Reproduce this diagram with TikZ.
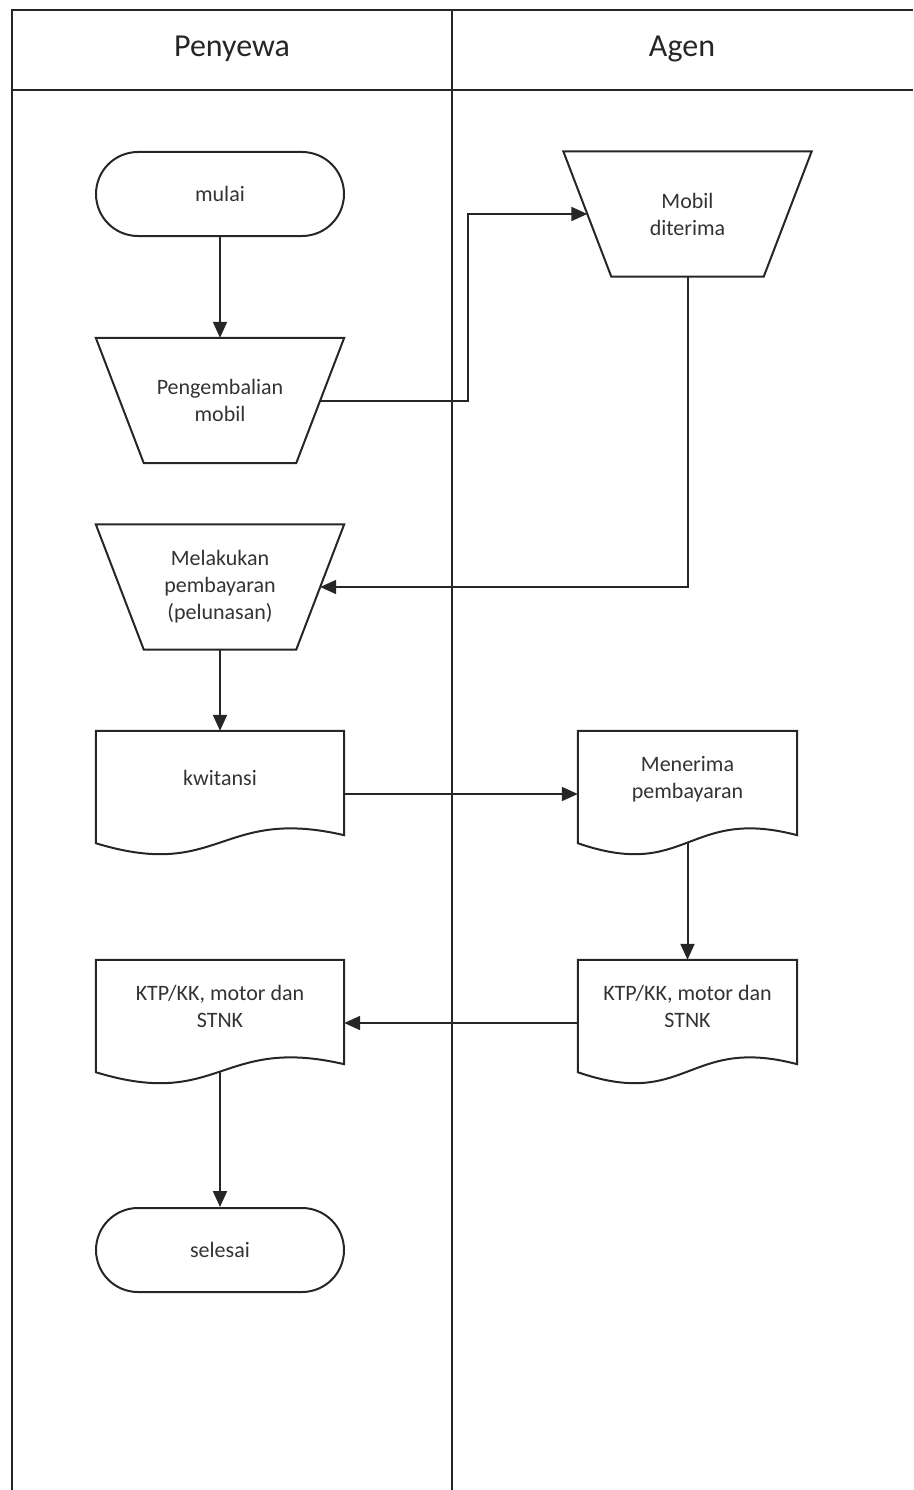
\documentclass[tikz,border=0pt]{standalone}
\usepackage{fontspec}
\setmainfont{Carlito}
\usetikzlibrary{arrows.meta}
\begin{document}
\begin{tikzpicture}[x=1pt,y=-1pt,
  line/.style={line width=2pt, draw=black!85},
  frame/.style={line width=2.3pt, draw=black!85},
  nodetext/.style={font=\fontsize{22}{27}\selectfont, text=black!80, align=center},
  hdr/.style={font=\fontsize{32}{38}\selectfont, text=black!85},
  term/.style={line, nodetext, rectangle, rounded corners=42pt, minimum width=248pt, minimum height=84pt},
  manual/.style={nodetext, rectangle, inner sep=0pt, minimum width=248pt, minimum height=125pt},
  doc/.style={rectangle, inner sep=0pt, minimum height=126pt},
  arr/.style={line, -{Triangle[length=16pt,width=14pt]}}
]
\useasboundingbox (0,0) rectangle (913,1490);
% swimlane frame
\draw[frame] (12,1490) -- (12,10) -- (913,10);
\draw[frame] (12,90) -- (913,90);
\draw[frame] (452,10) -- (452,1490);
\node[hdr] (h1) at (232,49) {Penyewa};
\node[hdr] (h2) at (682,49) {Agen};

\newcommand{\docpath}[1]{%
  \draw[line] (#1.north west) -- (#1.north east) -- ([yshift=22pt]#1.south east)
    .. controls ([yshift=51pt]#1.south) and ([yshift=-24pt]#1.south) .. ([yshift=14pt]#1.south west) -- cycle;}
\newcommand{\manpath}[1]{%
  \draw[line] (#1.north west) -- (#1.north east) -- ([xshift=-48pt]#1.south east)
    -- ([xshift=48pt]#1.south west) -- cycle;}

% nodes
\node[term] (mulai) at (220,194) {mulai};
\node[manual] (pm) at (220,400.5) {Pengembalian\\mobil};
\manpath{pm}
\node[manual] (md) at (687.5,214) {Mobil\\diterima};
\manpath{md}
\node[manual] (mk) at (220,587) {Melakukan\\pembayaran\\(pelunasan)};
\manpath{mk}
\node[doc, minimum width=248pt] (kw) at (220,794) {};
\docpath{kw}
\node[nodetext] (kwt) at ([yshift=16pt]kw.center) {kwitansi};
\node[doc, minimum width=219pt] (mp) at (687.5,794) {};
\docpath{mp}
\node[nodetext] (mpt) at ([yshift=15pt]mp.center) {Menerima\\pembayaran};
\node[doc, minimum width=219pt] (kr) at (687.5,1023) {};
\docpath{kr}
\node[nodetext] (krt) at ([yshift=17pt]kr.center) {KTP/KK, motor dan\\STNK};
\node[doc, minimum width=248pt] (kl) at (220,1023) {};
\docpath{kl}
\node[nodetext] (klt) at ([yshift=17pt]kl.center) {KTP/KK, motor dan\\STNK};
\node[term] (sl) at (220,1250) {selesai};

% connectors
\coordinate (j1) at (468,402);
\draw[arr] (mulai.south) -- (pm.north);
\draw[arr] ([xshift=-24pt]pm.east) -- (pm.east -| j1) |- ([xshift=24pt]md.west);
\draw[arr] (md.south) |- ([xshift=-24pt]mk.east);
\draw[arr] (mk.south) -- (kw.north);
\draw[arr] (kw.east) -- (mp.west);
\draw[arr] ([yshift=14.6pt]mp.south) -- (kr.north);
\draw[arr] (kr.west) -- (kl.east);
\draw[arr] ([yshift=14.6pt]kl.south) -- (sl.north);
\end{tikzpicture}
\end{document}
